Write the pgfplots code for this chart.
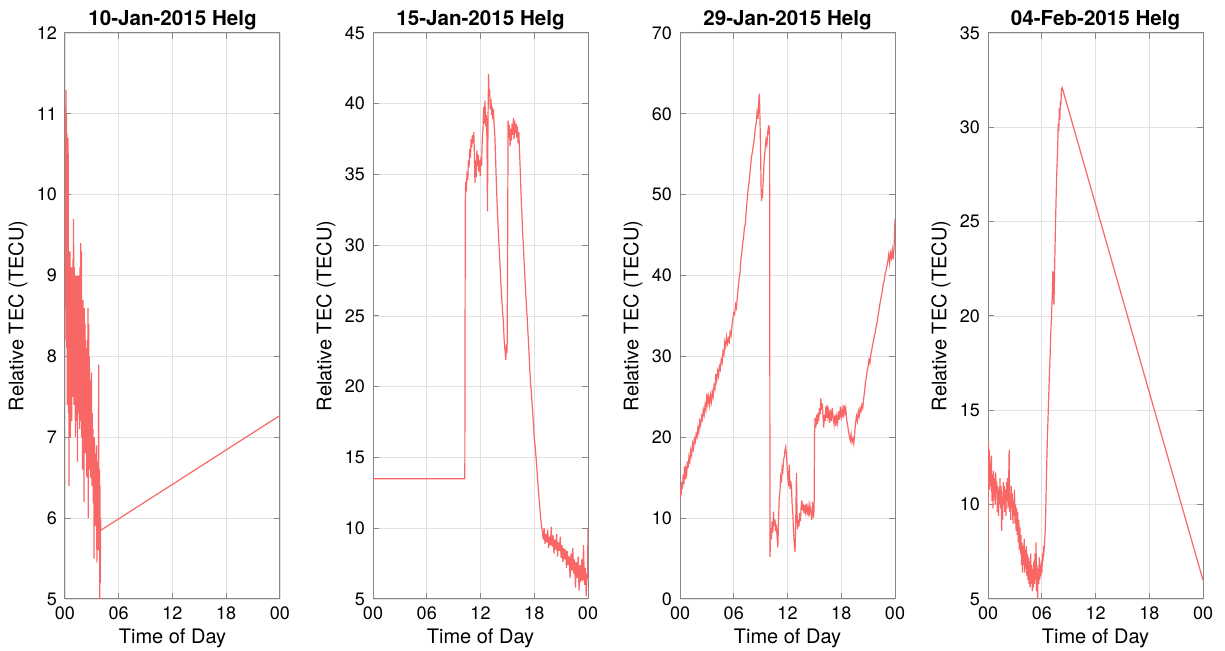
\documentclass[border=0pt]{standalone}
\usepackage{pgfplots}
\pgfplotsset{compat=1.18}
\usepackage{fontspec}
\setmainfont{TeX Gyre Heros}
\definecolor{tecred}{RGB}{248,102,102}
\definecolor{axgray}{RGB}{135,135,135}
\definecolor{gridgray}{RGB}{225,225,225}
\pgfplotsset{
  tecstyle/.style={
    scale only axis, width=107.5pt, height=283pt,
    anchor=south west,
    xmin=0, xmax=24,
    xtick={0,6,12,18,24}, xticklabels={00,06,12,18,00},
    grid=major, major grid style={gridgray, line width=0.4pt},
    axis line style={axgray, line width=0.5pt},
    tick style={axgray, line width=0.5pt},
    tick align=inside, major tick length=3pt,
    /pgf/number format/assume math mode=true,
    ticklabel style={font=\fontsize{9}{10}\selectfont, text=black},
    yticklabel style={xshift=-0.5pt},
    xticklabel style={yshift=-0.5pt},
    label style={font=\fontsize{10}{12}\selectfont},
    xlabel={Time of Day},
    ylabel={Relative TEC (TECU)},
    xlabel style={at={(axis description cs:0.5,0)}, anchor=center, yshift=-19.5pt},
    ylabel style={at={(axis description cs:0,0.5)}, anchor=center, yshift=23.5pt},
    title style={at={(axis description cs:0.5,1)}, anchor=base, yshift=-2.5pt, font=\bfseries\fontsize{10.3}{12}\selectfont},
  },
  tecline/.style={tecred, line width=0.6pt, mark=none},
}
\begin{document}
\begin{tikzpicture}
\useasboundingbox (-32.5pt,-26pt) rectangle (580pt,299.5pt);
% Panel 1
\begin{axis}[tecstyle, at={(0pt,0pt)}, ymin=5, ymax=12, ytick={5,6,...,12},
  title={10-Jan-2015 Helg}]
\addplot[tecline] table {
0.00 8.2
0.06 9.6
0.10 11.3
0.13 10.2
0.16 11.0
0.19 8.1
0.23 10.75
0.26 7.4
0.29 9.9
0.32 7.9
0.35 10.7
0.38 7.3
0.41 9.3
0.44 6.4
0.48 8.8
0.52 7.6
0.56 9.3
0.60 7.0
0.64 8.9
0.68 7.8
0.72 9.1
0.76 7.2
0.80 8.6
0.84 7.5
0.88 9.2
0.92 8.0
0.96 9.7
1.00 7.4
1.04 9.1
1.08 7.9
1.12 8.9
1.16 7.0
1.20 9.0
1.24 7.6
1.28 8.7
1.32 7.2
1.36 9.0
1.40 6.7
1.44 8.4
1.48 7.6
1.52 9.0
1.56 7.3
1.60 8.8
1.64 7.1
1.68 9.1
1.72 7.8
1.76 9.4
1.80 7.2
1.84 9.3
1.88 7.0
1.92 8.5
1.96 6.6
2.00 8.7
2.04 7.5
2.08 8.3
2.12 6.2
2.16 8.6
2.20 7.3
2.24 8.4
2.28 6.8
2.32 8.2
2.36 7.0
2.40 8.1
2.44 6.5
2.48 7.9
2.52 6.9
2.56 8.6
2.60 6.0
2.64 8.4
2.68 7.0
2.72 8.0
2.76 6.6
2.80 7.7
2.84 6.5
2.88 7.5
2.92 6.9
2.96 7.8
3.00 6.4
3.04 7.3
3.08 6.6
3.12 7.1
3.16 6.2
3.20 6.9
3.24 5.5
3.28 7.0
3.32 6.0
3.36 6.8
3.40 5.9
3.44 6.7
3.48 6.1
3.52 6.9
3.56 5.45
3.60 6.6
3.64 5.8
3.68 6.7
3.72 5.6
3.76 7.9
3.80 5.7
3.84 6.6
3.88 5.0
3.91 6.4
3.94 5.2
3.97 6.0
4.00 5.85
24.00 7.27
};
\end{axis}
% Panel 2
\begin{axis}[tecstyle, at={(154pt,0pt)}, ymin=5, ymax=45, ytick={5,10,...,45},
  title={15-Jan-2015 Helg}]
\addplot[tecline] table {
0 13.5
10.25 13.5
10.3 33.0
10.35 34.5
10.42 33.8
10.5 35.2
10.58 34.6
10.65 36.0
10.72 35.5
10.8 36.8
10.88 36.2
10.95 37.5
11.02 36.9
11.1 37.8
11.18 37.2
11.25 38.0
11.32 36.5
11.38 34.4
11.45 36.0
11.52 34.8
11.6 36.7
11.68 35.6
11.75 36.4
11.82 35.2
11.9 36.0
11.97 34.9
12.05 36.2
12.12 35.6
12.2 37.5
12.28 38.2
12.35 39.8
12.42 38.6
12.5 40.2
12.58 38.4
12.65 39.2
12.72 37.5
12.78 32.4
12.84 39.0
12.9 42.1
12.96 40.5
13.02 41.0
13.1 39.6
13.17 40.3
13.24 39.2
13.3 39.8
13.38 38.9
13.45 39.6
13.52 38.5
13.6 37.8
13.68 36.2
13.75 34.8
13.85 33.0
13.95 31.5
14.05 30.2
14.15 29.0
14.25 27.6
14.35 26.5
14.45 25.4
14.55 24.6
14.65 23.2
14.75 22.5
14.82 21.9
14.9 23.0
14.97 22.4
15.03 30.0
15.08 38.8
15.15 37.6
15.22 38.5
15.3 37.0
15.38 38.2
15.45 37.4
15.52 38.6
15.6 37.8
15.68 39.0
15.75 37.5
15.82 38.8
15.9 37.9
15.98 38.6
16.05 37.6
16.12 38.4
16.2 37.2
16.28 38.0
16.35 36.8
16.42 35.6
16.5 34.0
16.6 32.5
16.7 31.0
16.8 29.8
16.9 28.4
17.0 27.2
17.1 26.0
17.2 25.0
17.3 23.8
17.4 22.6
17.5 21.2
17.6 20.2
17.7 19.4
17.8 18.4
17.9 17.5
18.0 16.4
18.1 15.8
18.2 15.0
18.3 14.2
18.4 13.2
18.5 12.4
18.6 11.6
18.7 10.8
18.8 10.2
18.9 9.8
19.0 9.2
19.1 10.0
19.2 8.9
19.3 9.6
19.4 9.0
19.5 9.9
19.6 8.6
19.7 9.4
19.8 8.8
19.9 10.1
20.0 8.7
20.1 9.5
20.2 8.2
20.3 9.2
20.4 8.5
20.5 9.6
20.6 8.0
20.7 9.0
20.8 8.4
20.9 9.4
21.0 7.9
21.1 8.8
21.2 7.6
21.3 8.6
21.4 7.8
21.5 8.5
21.6 7.2
21.7 8.4
21.8 7.4
21.9 8.0
22.0 6.5
22.1 8.2
22.2 7.0
22.3 8.6
22.4 6.8
22.5 7.8
22.6 5.8
22.7 7.6
22.8 6.5
22.9 8.0
23.0 5.6
23.1 7.4
23.2 6.2
23.3 7.8
23.4 6.3
23.5 8.8
23.6 6.0
23.7 7.2
23.8 5.2
23.9 6.8
23.95 6.4
24.0 10.0
};
\end{axis}
% Panel 3
\begin{axis}[tecstyle, at={(307.5pt,0pt)}, ymin=0, ymax=70, ytick={0,10,...,70},
  title={29-Jan-2015 Helg}]
\addplot[tecline] table {
0 12.2
0.06 14.0
0.12 12.8
0.2 14.5
0.28 13.6
0.36 15.4
0.44 14.2
0.5 16.4
0.58 14.8
0.66 16.0
0.74 15.4
0.82 17.0
0.9 16.2
1.0 17.6
1.1 17.0
1.2 18.4
1.3 17.8
1.4 19.2
1.5 18.6
1.6 19.8
1.7 19.4
1.8 20.4
1.9 20.0
2.0 21.2
2.1 20.6
2.2 22.0
2.3 21.5
2.4 22.6
2.5 22.2
2.6 23.4
2.7 22.8
2.8 24.0
2.9 23.4
3.0 25.4
3.1 24.2
3.2 25.0
3.3 24.0
3.4 25.2
3.5 24.4
3.6 25.6
3.7 25.0
3.8 26.4
3.9 26.0
4.0 27.8
4.1 27.0
4.2 28.2
4.3 27.6
4.4 28.8
4.5 28.4
4.6 29.6
4.7 29.2
4.8 30.6
4.9 30.2
5.0 31.8
5.1 31.2
5.2 32.4
5.3 31.6
5.4 32.2
5.5 31.8
5.6 33.0
5.7 32.6
5.8 33.8
5.9 34.6
6.0 35.4
6.1 35.2
6.2 36.4
6.3 36.0
6.4 37.4
6.5 38.6
6.6 39.6
6.7 40.4
6.8 42.0
6.9 42.8
7.0 44.0
7.1 44.8
7.2 46.0
7.3 46.4
7.4 48.0
7.5 49.4
7.6 50.6
7.7 51.4
7.8 52.6
7.9 53.8
8.0 54.8
8.1 55.4
8.2 56.2
8.3 57.0
8.4 58.2
8.5 58.8
8.6 60.2
8.7 59.4
8.8 61.6
8.85 62.5
8.9 60.8
8.95 58.0
9.0 55.0
9.05 51.0
9.1 49.2
9.15 50.4
9.2 49.6
9.3 52.0
9.4 54.4
9.5 55.6
9.6 56.8
9.7 56.2
9.8 57.8
9.9 58.6
9.95 57.4
10.0 58.4
10.05 5.2
10.12 8.8
10.2 7.4
10.28 9.6
10.36 8.2
10.44 10.8
10.52 9.0
10.6 9.8
10.68 8.4
10.76 9.2
10.84 7.6
10.92 6.4
11.0 9.8
11.08 12.6
11.16 13.4
11.24 15.0
11.32 14.4
11.4 16.2
11.48 15.8
11.56 17.2
11.64 17.6
11.72 18.4
11.8 18.8
11.88 17.8
11.96 16.4
12.04 15.0
12.12 14.0
12.2 16.6
12.28 13.6
12.36 14.6
12.44 13.8
12.52 11.6
12.6 10.4
12.68 8.2
12.76 6.6
12.84 5.8
12.92 9.6
13.0 15.6
13.06 11.0
13.12 8.6
13.2 9.8
13.28 9.0
13.36 10.6
13.44 9.6
13.52 11.4
13.6 12.2
13.68 11.0
13.76 11.8
13.84 10.6
13.92 11.6
14.0 10.8
14.1 11.8
14.2 10.4
14.3 11.4
14.4 10.2
14.5 11.6
14.6 10.8
14.7 9.8
14.8 12.0
14.9 10.0
14.97 11.2
15.02 20.4
15.08 22.4
15.16 21.2
15.24 22.8
15.32 21.6
15.4 23.0
15.48 22.0
15.56 23.6
15.64 22.8
15.72 24.8
15.8 23.4
15.88 24.2
15.96 22.6
16.04 21.2
16.12 22.8
16.2 22.0
16.28 23.8
16.36 22.4
16.44 24.0
16.52 22.6
16.6 23.2
16.7 21.8
16.8 23.4
16.9 22.0
17.0 23.6
17.1 22.4
17.2 21.6
17.3 22.8
17.4 21.4
17.5 22.6
17.6 21.8
17.7 23.2
17.8 22.2
17.9 23.8
18.0 22.6
18.1 23.4
18.2 22.4
18.3 24.0
18.4 23.0
18.5 23.6
18.6 22.2
18.7 21.6
18.8 20.8
18.9 20.2
19.0 19.6
19.1 20.4
19.2 19.4
19.3 19.8
19.4 19.2
19.5 20.6
19.6 21.8
19.7 22.6
19.8 22.0
19.9 23.2
20.0 22.6
20.1 23.6
20.2 23.2
20.3 24.0
20.4 23.6
20.5 24.8
20.6 25.6
20.7 26.8
20.8 27.4
20.9 28.2
21.0 28.8
21.1 29.6
21.2 29.2
21.3 30.2
21.4 30.8
21.5 31.4
21.6 32.0
21.7 32.6
21.8 33.0
21.9 33.8
22.0 34.2
22.1 35.0
22.2 35.6
22.3 36.4
22.4 37.0
22.5 37.6
22.6 38.2
22.7 39.0
22.8 39.4
22.9 40.2
23.0 40.6
23.1 41.2
23.2 41.8
23.3 42.6
23.4 41.6
23.5 42.8
23.6 42.2
23.7 43.2
23.8 42.0
23.9 43.6
24.0 47.0
};
\end{axis}
% Panel 4
\begin{axis}[tecstyle, at={(461.5pt,0pt)}, ymin=5, ymax=35, ytick={5,10,...,35},
  title={04-Feb-2015 Helg}]
\addplot[tecline] table {
0 7.5
0.05 13.3
0.1 11.5
0.15 12.9
0.2 10.8
0.26 12.2
0.32 11.0
0.38 12.6
0.44 10.2
0.5 11.6
0.56 9.8
0.62 11.8
0.68 10.4
0.74 11.4
0.8 10.0
0.86 11.7
0.92 10.6
0.98 11.2
1.04 9.6
1.1 11.0
1.16 9.4
1.22 10.8
1.28 10.0
1.34 11.4
1.4 9.8
1.46 11.0
1.52 8.6
1.58 10.4
1.64 9.2
1.7 11.2
1.76 10.0
1.82 11.0
1.88 9.6
1.94 10.8
2.0 9.4
2.06 11.2
2.12 10.2
2.18 11.4
2.24 9.8
2.3 11.0
2.36 12.9
2.42 9.6
2.48 10.6
2.54 9.2
2.6 11.0
2.66 9.8
2.72 10.6
2.78 9.0
2.84 10.2
2.9 9.4
2.96 10.8
3.02 9.0
3.08 10.0
3.14 8.6
3.2 9.8
3.26 8.4
3.32 9.6
3.38 8.0
3.44 9.2
3.5 7.6
3.56 8.8
3.62 7.4
3.68 8.4
3.74 6.8
3.8 8.0
3.86 6.4
3.92 7.8
3.98 6.8
4.04 8.2
4.1 6.4
4.16 7.6
4.22 6.6
4.28 7.8
4.34 6.2
4.4 7.4
4.46 6.0
4.52 7.2
4.58 5.8
4.64 7.0
4.7 5.6
4.76 7.4
4.82 5.8
4.88 6.8
4.94 5.4
5.0 6.6
5.06 5.6
5.12 7.0
5.18 5.8
5.24 7.4
5.3 6.0
5.36 8.0
5.42 5.4
5.48 6.8
5.54 5.0
5.6 6.6
5.66 5.8
5.72 7.2
5.78 6.0
5.84 6.8
5.9 6.2
5.96 7.0
6.02 6.4
6.08 7.4
6.14 7.0
6.2 7.8
6.26 7.6
6.32 8.0
6.38 8.6
6.44 9.6
6.5 11.0
6.56 12.2
6.62 13.4
6.7 14.6
6.78 15.8
6.86 17.0
6.94 18.0
7.0 19.0
7.06 19.6
7.12 20.4
7.18 21.2
7.24 22.4
7.3 21.0
7.36 20.6
7.42 22.0
7.48 23.6
7.54 25.0
7.6 26.2
7.66 27.4
7.72 28.2
7.78 29.0
7.84 30.2
7.9 29.8
7.96 31.0
8.02 30.4
8.08 31.4
8.14 31.2
8.2 32.0
8.28 32.1
24.0 6.0
};
\end{axis}
\end{tikzpicture}
\end{document}
